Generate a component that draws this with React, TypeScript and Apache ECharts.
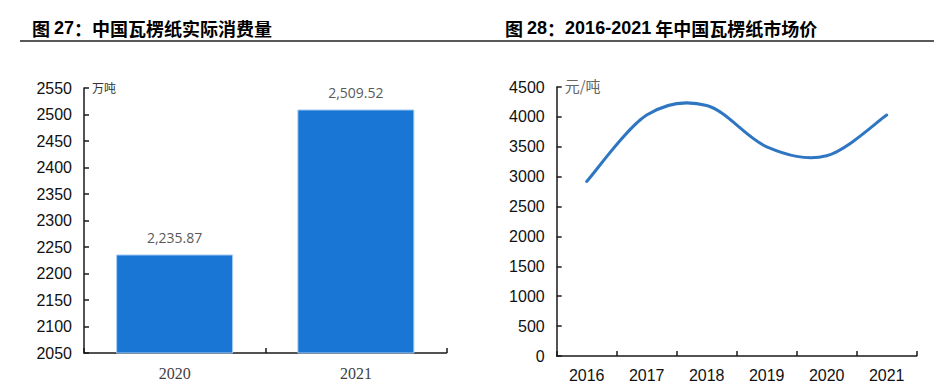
import React, { useEffect, useRef } from "react";
import * as echarts from "echarts";

const barCategories = ["2020", "2021"];
const consumption = [2235.87, 2509.52];
const consumptionTicks = { min: 2050, max: 2550, interval: 50 };

const years = ["2016", "2017", "2018", "2019", "2020", "2021"];
const prices = [2920, 4030, 4190, 3500, 3350, 4030];
const priceTicks = { min: 0, max: 4500, interval: 500 };

const titleLeft = { num: "27", text: "中国瓦楞纸实际消费量" };
const titleRight = { num: "28", years: "2016-2021", text: " 年中国瓦楞纸市场价" };

const AXIS = "#1a1a1a";
const NUM_FONT = "'Liberation Sans', Arial, sans-serif";
const CJK_FONT = "'Noto Sans CJK SC', sans-serif";

function fmt(v: number) {
  return v.toLocaleString("en-US", { minimumFractionDigits: 2, maximumFractionDigits: 2 });
}

// Catmull-Rom style smoothing (like spreadsheet smoothed lines), points via the chart's scales
function smoothPath(pts: number[][]) {
  if (!pts.length) return "";
  let d = `M${pts[0][0]},${pts[0][1]}`;
  for (let i = 0; i < pts.length - 1; i++) {
    const p0 = pts[Math.max(0, i - 1)];
    const p1 = pts[i];
    const p2 = pts[i + 1];
    const p3 = pts[Math.min(pts.length - 1, i + 2)];
    const c1x = p1[0] + (p2[0] - p0[0]) / 6;
    const c1y = p1[1] + (p2[1] - p0[1]) / 6;
    const c2x = p2[0] - (p3[0] - p1[0]) / 6;
    const c2y = p2[1] - (p3[1] - p1[1]) / 6;
    d += ` C${c1x},${c1y} ${c2x},${c2y} ${p2[0]},${p2[1]}`;
  }
  return d;
}

export default function App() {
  const ref = useRef<HTMLDivElement>(null);
  useEffect(() => {
    if (!ref.current) return;
    const chart = echarts.init(ref.current, null, { renderer: "svg" });
    const rich = {
      c: { fontFamily: CJK_FONT, fontSize: 18, fontWeight: "bold", color: "#000" },
      n: { fontFamily: NUM_FONT, fontSize: 18, fontWeight: "bold", color: "#000" },
    };
    const axisLine = { show: true, lineStyle: { color: AXIS, width: 1.5 } };
    const axisTick = { show: true, inside: true, length: 5, lineStyle: { color: AXIS, width: 1.5 } };
    chart.setOption({
      animation: false,
      backgroundColor: "#fff",
      graphic: [
        {
          type: "text",
          x: 32,
          y: 28,
          style: {
            text: `{c|图 }{n|${titleLeft.num}}{c|：${titleLeft.text}}`,
            rich,
            verticalAlign: "middle",
          },
        },
        {
          type: "text",
          x: 505,
          y: 28,
          style: {
            text: `{c|图 }{n|${titleRight.num}}{c|：}{n|${titleRight.years}}{c|${titleRight.text}}`,
            rich,
            verticalAlign: "middle",
          },
        },
        {
          type: "line",
          shape: { x1: 20, y1: 41, x2: 934, y2: 41 },
          style: { stroke: "#222", lineWidth: 1.5 },
        },
      ],
      grid: [
        { left: 84, top: 88, width: 362.5, height: 265, containLabel: false },
        { left: 556.7, top: 87, width: 360, height: 269, containLabel: false },
      ],
      xAxis: [
        {
          type: "category",
          gridIndex: 0,
          data: barCategories,
          boundaryGap: true,
          axisLine,
          axisTick,
          axisLabel: {
            color: "#404040",
            fontFamily: "'Liberation Serif', serif",
            fontSize: 16,
            margin: 12,
          },
        },
        {
          type: "category",
          gridIndex: 1,
          data: years,
          boundaryGap: true,
          axisLine,
          axisTick,
          axisLabel: { color: "#111", fontFamily: NUM_FONT, fontSize: 16, margin: 11 },
        },
      ],
      yAxis: [
        {
          type: "value",
          gridIndex: 0,
          min: consumptionTicks.min,
          max: consumptionTicks.max,
          interval: consumptionTicks.interval,
          splitLine: { show: false },
          axisLine,
          axisTick,
          axisLabel: {
            color: "#111",
            fontFamily: NUM_FONT,
            fontSize: 16,
            margin: 12,
            formatter: (v: number) => String(v),
          },
          name: "万吨",
          nameLocation: "end",
          nameGap: 1,
          nameTextStyle: {
            color: "#333",
            fontFamily: CJK_FONT,
            fontSize: 12,
            align: "left",
            verticalAlign: "middle",
            padding: [0, 0, 0, 8],
          },
        },
        {
          type: "value",
          gridIndex: 1,
          min: priceTicks.min,
          max: priceTicks.max,
          interval: priceTicks.interval,
          splitLine: { show: false },
          axisLine,
          axisTick,
          axisLabel: {
            color: "#111",
            fontFamily: NUM_FONT,
            fontSize: 16,
            margin: 12,
            formatter: (v: number) => String(v),
          },
          name: "元/吨",
          nameLocation: "end",
          nameGap: 2,
          nameTextStyle: {
            color: "#666",
            fontFamily: CJK_FONT,
            fontSize: 15,
            align: "left",
            verticalAlign: "middle",
            padding: [0, 0, 0, 8],
          },
        },
      ],
      series: [
        {
          type: "bar",
          xAxisIndex: 0,
          yAxisIndex: 0,
          data: consumption,
          barWidth: 117,
          itemStyle: { color: "#1976d4", borderColor: "#a8cdf2", borderWidth: 1 },
          label: {
            show: true,
            position: "top",
            distance: 10,
            color: "#595959",
            fontFamily: "'Open Sans', sans-serif",
            fontSize: 14,
            formatter: (p: any) => fmt(p.value),
          },
        },
        {
          type: "custom",
          xAxisIndex: 1,
          yAxisIndex: 1,
          data: prices.map((v, i) => [i, v]),
          encode: { x: 0, y: 1 },
          renderItem: (params: any, api: any) => {
            if (params.dataIndex !== 0) return null;
            const pts = prices.map((v, i) => api.coord([i, v]));
            return {
              type: "path",
              shape: { pathData: smoothPath(pts) },
              style: { stroke: "#2f76c2", lineWidth: 3, fill: "none", lineCap: "round" },
            };
          },
        },
      ],
    });
    return () => chart.dispose();
  }, []);
  return (
    <div
      ref={ref}
      style={{ position: "fixed", left: 0, top: 0, width: 934, height: 385, background: "#fff" }}
    />
  );
}
